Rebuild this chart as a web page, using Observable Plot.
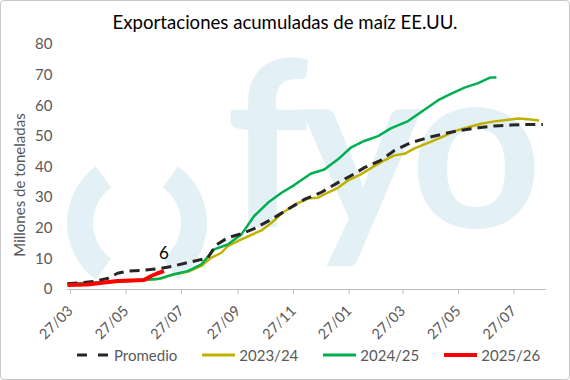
<!DOCTYPE html>
<html>
<head>
<meta charset="utf-8">
<script src="https://cdn.jsdelivr.net/npm/d3@7"></script>
<script src="https://cdn.jsdelivr.net/npm/@observablehq/plot@0.6"></script>
<style>
  body { margin: 0; background: #fff; }
  #wrap { position: relative; width: 570px; height: 380px; background: #fff; font-family: Lato, "Noto Sans", sans-serif; overflow: hidden; }
  #title { text-align: center; font-size: 18.6px; line-height: 24px; height: 24px; padding-top: 10px; color: #000; }
  #chart { position: absolute; top: 34px; left: 0; }
  #legend { position: absolute; top: 340px; left: 0; width: 570px; height: 30px; display: flex; align-items: center; padding-left: 77px; box-sizing: border-box; font-size: 15px; color: #595959; }
  .item { display: flex; align-items: center; margin-right: 25px; }
  .item svg { margin-right: 4px; }
  #border { position: absolute; left: 0; top: 0; width: 570px; height: 380px; box-sizing: border-box; border: 1px solid #c8c8c8; border-radius: 4px; pointer-events: none; }
</style>
</head>
<body>
<div id="wrap">
  <div id="title">Exportaciones acumuladas de maíz EE.UU.</div>
  <div id="chart"></div>
  <div id="legend"></div>
  <div id="border"></div>
</div>
<script>
// ---- Data ----
const seriesNames = ["Promedio", "2023/24", "2024/25", "2025/26"];
const seriesColors = ["#262626", "#bfb100", "#00b050", "#ff0000"];

const promedio = [
  ["2025-03-27", 1.9], ["2025-04-25", 2.6], ["2025-05-10", 3.6], ["2025-05-21", 5.3],
  ["2025-06-01", 6.0], ["2025-06-19", 6.3], ["2025-07-08", 6.9], ["2025-07-22", 7.7],
  ["2025-08-06", 8.8], ["2025-08-21", 9.8], ["2025-08-28", 10.3], ["2025-09-06", 14.5],
  ["2025-09-19", 16.9], ["2025-10-04", 18.2], ["2025-10-18", 19.9], ["2025-11-06", 22.9],
  ["2025-11-24", 26.2], ["2025-12-12", 29.4], ["2025-12-30", 31.6], ["2026-01-18", 34.9],
  ["2026-02-01", 37.1], ["2026-02-16", 39.8], ["2026-03-06", 42.2], ["2026-03-21", 45.4],
  ["2026-04-08", 47.9], ["2026-04-27", 49.6], ["2026-05-15", 50.9], ["2026-06-02", 52.0],
  ["2026-06-21", 52.8], ["2026-07-09", 53.4], ["2026-07-27", 53.7], ["2026-08-15", 53.9],
  ["2026-08-31", 53.9]
];

const campana2324 = [
  ["2025-03-27", 1.9], ["2025-04-25", 2.3], ["2025-05-28", 2.6], ["2025-06-19", 3.0],
  ["2025-07-08", 3.6], ["2025-07-22", 5.0], ["2025-08-06", 5.8], ["2025-08-21", 7.7],
  ["2025-09-01", 10.4], ["2025-09-12", 12.0], ["2025-09-19", 14.2], ["2025-10-04", 16.4],
  ["2025-10-11", 17.3], ["2025-10-26", 19.3], ["2025-11-06", 21.8], ["2025-11-17", 24.8],
  ["2025-12-01", 27.6], ["2025-12-16", 29.7], ["2025-12-27", 30.0], ["2026-01-07", 31.6],
  ["2026-01-18", 33.2], ["2026-01-29", 35.6], ["2026-02-12", 37.6], ["2026-02-27", 40.3],
  ["2026-03-10", 42.2], ["2026-03-21", 43.8], ["2026-04-01", 44.3], ["2026-04-12", 46.1],
  ["2026-04-27", 47.9], ["2026-05-11", 49.6], ["2026-05-26", 51.7], ["2026-06-10", 53.0],
  ["2026-06-24", 54.1], ["2026-07-09", 54.9], ["2026-07-24", 55.4], ["2026-08-04", 55.8],
  ["2026-08-15", 55.6], ["2026-08-27", 55.2]
];

const campana2425 = [
  ["2025-03-27", 1.9], ["2025-04-25", 2.1], ["2025-05-28", 2.8], ["2025-06-19", 3.2],
  ["2025-07-04", 3.4], ["2025-07-22", 5.0], ["2025-08-06", 6.0], ["2025-08-21", 8.2],
  ["2025-09-04", 13.1], ["2025-09-19", 14.7], ["2025-10-04", 18.0], ["2025-10-18", 24.0],
  ["2025-11-02", 28.3], ["2025-11-17", 31.6], ["2025-12-01", 34.1], ["2025-12-19", 37.8],
  ["2026-01-03", 39.2], ["2026-01-18", 42.5], ["2026-02-01", 46.3], ["2026-02-16", 48.5],
  ["2026-03-03", 50.1], ["2026-03-17", 52.6], ["2026-04-05", 55.0], ["2026-04-19", 57.9],
  ["2026-05-08", 61.8], ["2026-05-22", 63.9], ["2026-06-06", 65.9], ["2026-06-21", 67.4],
  ["2026-06-28", 68.4], ["2026-07-04", 69.2], ["2026-07-11", 69.2]
];

const campana2526 = [
  ["2025-03-27", 1.5], ["2025-04-18", 1.6], ["2025-05-02", 2.1], ["2025-05-21", 2.8],
  ["2025-06-19", 3.1], ["2025-06-27", 4.4], ["2025-07-04", 5.3], ["2025-07-11", 6.0]
];

const xTickLabels = ["2025-03-27", "2025-05-27", "2025-07-27", "2025-09-27", "2025-11-27",
                     "2026-01-27", "2026-03-27", "2026-05-27", "2026-07-27"];
const yTicks = [0, 10, 20, 30, 40, 50, 60, 70, 80];
const xDomain = ["2025-03-27", "2026-09-04"];

// ---- Build ----
const parse = d3.utcParse("%Y-%m-%d");
const allSeries = [promedio, campana2324, campana2425, campana2526];
const rows = allSeries.flatMap((s, i) => s.map(([d, v]) => ({serie: seriesNames[i], date: parse(d), value: v})));
const bySerie = name => rows.filter(r => r.serie === name);
const lastRed = bySerie("2025/26").slice(-1);

const lineStyles = {
  "Promedio": {strokeWidth: 3, strokeDasharray: "10,6"},
  "2023/24": {strokeWidth: 2.5},
  "2024/25": {strokeWidth: 2.5},
  "2025/26": {strokeWidth: 4}
};

const chart = Plot.plot({
  width: 570,
  height: 305,
  marginTop: 10,
  marginBottom: 50,
  marginLeft: 67,
  marginRight: 24,
  style: {fontFamily: "Lato, 'Noto Sans', sans-serif", fontSize: "15px", color: "#595959", background: "transparent", overflow: "visible"},
  x: {type: "utc", domain: xDomain.map(parse)},
  y: {domain: [0, 80]},
  color: {domain: seriesNames, range: seriesColors},
  marks: [
    Plot.ruleY([0], {stroke: "#bfbfbf", strokeWidth: 1}),
    Plot.axisX({ticks: xTickLabels.map(parse), tickFormat: d3.utcFormat("%d/%m"), tickRotate: -45, tickSize: 5, tickPadding: 14, dx: 3, stroke: "#bfbfbf", fill: "#595959", fontSize: 14.5, label: null}),
    Plot.axisY({ticks: yTicks, tickSize: 0, tickPadding: 15, fill: "#595959", fontSize: 15, label: null}),
    Plot.text(["Millones de toneladas"], {text: d => d, frameAnchor: "left", textAnchor: "middle", dx: -47, dy: 18, rotate: -90, fill: "#595959", fontSize: 15}),
    ...["2023/24", "2024/25", "Promedio", "2025/26"].map(name =>
      Plot.line(bySerie(name), {x: "date", y: "value", stroke: "serie", strokeLinejoin: "round", strokeLinecap: "butt", ...lineStyles[name]})
    ),
    Plot.text(lastRed, {x: "date", y: "value", text: d => d3.format("d")(d.value), dy: -18, fill: "#000", fontSize: 17})
  ]
});

// watermark (fyo logo) behind the marks
const wm = d3.select(chart).insert("g", ":first-child").attr("fill", "#e3f0f5");
const arc = d3.arc().innerRadius(44).outerRadius(70);
const deg = Math.PI / 180;
wm.append("path").attr("transform", "translate(137,189)").attr("d", arc({startAngle: 36 * deg, endAngle: 144 * deg}));
wm.append("path").attr("transform", "translate(137,189)").attr("d", arc({startAngle: 216 * deg, endAngle: 324 * deg}));
wm.append("text").attr("x", 226).attr("y", 193).attr("font-size", 230).attr("font-weight", 700)
  .attr("text-anchor", "start")
  .attr("font-family", "Lato, sans-serif").attr("letter-spacing", -8).text("fyo");

document.getElementById("chart").appendChild(chart);

// legend
const legend = d3.select("#legend");
seriesNames.forEach((name, i) => {
  const item = legend.append("div").attr("class", "item");
  const sw = item.append("svg").attr("width", 33).attr("height", 10);
  sw.append("line").attr("x1", 0).attr("x2", 33).attr("y1", 5).attr("y2", 5)
    .attr("stroke", seriesColors[i])
    .attr("stroke-width", name === "Promedio" ? 3 : (name === "2025/26" ? 4 : 3))
    .attr("stroke-dasharray", name === "Promedio" ? "10,11" : null);
  item.append("span").text(name);
});
</script>
</body>
</html>
